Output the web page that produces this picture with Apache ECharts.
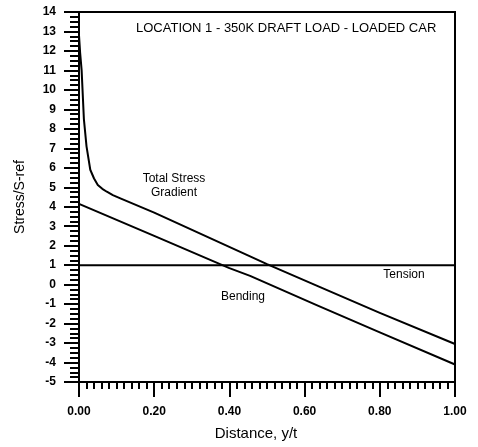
<!DOCTYPE html>
<html>
<head>
<meta charset="utf-8">
<script src="https://cdn.jsdelivr.net/npm/echarts@6/dist/echarts.min.js"></script>
<style>
  html, body { margin: 0; padding: 0; background: #fff; }
  #chart { width: 478px; height: 447px; }
</style>
</head>
<body>
<div id="chart"></div>
<script>
// values (distance y/t, stress / S-ref)
const totalStress = [
  [0, 12.8], [0.003, 11.9], [0.007, 11.0], [0.013, 8.5], [0.02, 7.1],
  [0.03, 5.9], [0.04, 5.45], [0.05, 5.12], [0.062, 4.92], [0.074, 4.77],
  [0.09, 4.6], [0.11, 4.43], [0.2, 3.7], [0.455, 1.45], [0.5, 1.05],
  [0.632, -0.05], [0.8, -1.45], [1.0, -3.05]
]
const bending = [
  [0, 4.15], [0.2, 2.5], [0.4, 0.85], [0.455, 0.45], [0.632, -1.05],
  [0.8, -2.45], [1.0, -4.1]
]
const tensionLine = [[0, 1], [1, 1]]
const xTicks = { min: 0, max: 1, step: 0.2 }
const yTicks = { min: -5, max: 14, step: 1 }

const font = 'Liberation Sans, Arial, Helvetica, sans-serif'
const chart = echarts.init(document.getElementById('chart'))
chart.setOption({
  animation: false,
  backgroundColor: '#fff',
  grid: {
    left: 79,
    right: 23,
    top: 12,
    bottom: 65,
    show: true,
    borderColor: '#000',
    borderWidth: 2,
    backgroundColor: 'transparent'
  },
  xAxis: {
    type: 'value',
    min: xTicks.min,
    max: xTicks.max,
    interval: xTicks.step,
    name: 'Distance, y/t',
    nameLocation: 'middle',
    nameGap: 44,
    nameTextStyle: {
      fontFamily: font,
      fontSize: 15,
      color: '#000',
      padding: [0, 22, 0, 0]
    },
    axisLine: { show: true, onZero: false, lineStyle: { color: '#000', width: 2 } },
    axisTick: { show: true, inside: false, length: 15, lineStyle: { color: '#000', width: 2 } },
    minorTick: { show: true, splitNumber: 10, length: 7, lineStyle: { color: '#000', width: 2 } },
    splitLine: { show: false },
    axisLabel: {
      margin: 24,
      fontFamily: font,
      fontSize: 12,
      fontWeight: 'bold',
      color: '#000',
      formatter: function (v) { return v.toFixed(2) }
    }
  },
  yAxis: {
    type: 'value',
    min: yTicks.min,
    max: yTicks.max,
    interval: yTicks.step,
    name: 'Stress/S-ref',
    nameLocation: 'middle',
    nameGap: 52,
    nameTextStyle: { fontFamily: font, fontSize: 14, color: '#000' },
    axisLine: { show: true, onZero: false, lineStyle: { color: '#000', width: 2 } },
    axisTick: { show: true, inside: false, length: 15, lineStyle: { color: '#000', width: 2 } },
    minorTick: { show: true, splitNumber: 4, length: 9, lineStyle: { color: '#000', width: 2 } },
    splitLine: { show: false },
    axisLabel: {
      margin: 23,
      fontFamily: font,
      fontSize: 12,
      fontWeight: 'bold',
      color: '#000'
    }
  },
  series: [
    {
      name: 'Total Stress Gradient',
      type: 'line',
      data: totalStress,
      showSymbol: false,
      lineStyle: { color: '#000', width: 2, join: 'round' }
    },
    {
      name: 'Bending',
      type: 'line',
      data: bending,
      showSymbol: false,
      lineStyle: { color: '#000', width: 2, join: 'round' }
    },
    {
      name: 'Tension',
      type: 'line',
      data: tensionLine,
      showSymbol: false,
      lineStyle: { color: '#000', width: 2 }
    }
  ],
  graphic: [
    {
      type: 'text', left: 136, top: 22,
      style: { text: 'LOCATION 1 - 350K DRAFT LOAD - LOADED CAR', font: '13px ' + font, fill: '#000' }
    },
    {
      type: 'text', x: 174, y: 172,
      style: { text: 'Total Stress\nGradient', font: '12px ' + font, fill: '#000', align: 'center', lineHeight: 14 }
    },
    {
      type: 'text', x: 243, y: 291,
      style: { text: 'Bending', font: '12px ' + font, fill: '#000', align: 'center' }
    },
    {
      type: 'text', x: 404, y: 269,
      style: { text: 'Tension', font: '12px ' + font, fill: '#000', align: 'center' }
    }
  ]
})
</script>
</body>
</html>
